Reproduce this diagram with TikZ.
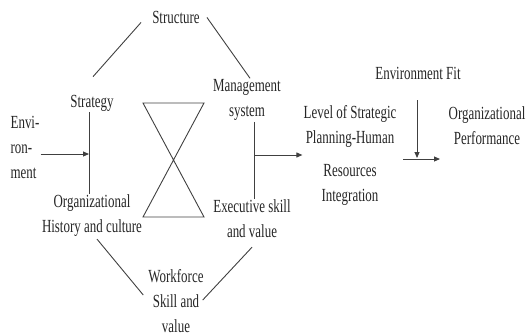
\documentclass[tikz,border=0pt]{standalone}
\usepackage{fontspec}
\setmainfont{Liberation Serif}[FakeStretch=0.7]
\usepackage{tikz}
\usetikzlibrary{arrows.meta,positioning}
\tikzset{
  lbl/.style={font=\fontsize{18.5}{25}\selectfont, text=black!85, align=center, inner sep=1pt},
  link/.style={draw=black!75, line width=0.9pt},
  flow/.style={link, -{Triangle[length=6pt,width=5pt]}}
}

\begin{document}
\begin{tikzpicture}[x=1pt,y=-1pt]
  \useasboundingbox (0,0) rectangle (526,335);

  % the seven elements
  \node[lbl] (structure) at (176,17) {Structure};
  \node[lbl] (strategy) at (92,103) {Strategy};
  \node[lbl] (mgmt) at (247,100) {Management\\system};
  \node[lbl] (org) at (92,216) {Organizational\\History and culture};
  \node[lbl] (exec) at (252,219) {Executive skill\\and value};
  \node[lbl] (work) at (176,301) {Workforce\\Skill and\\value};
  \node[lbl, align=left] (env) at (25,147) {Envi-\\ron-\\ment};

  % right hand side
  \node[lbl] (level) at (350,155) {Level of Strategic\\Planning-Human\\[8pt]Resources\\Integration};
  \node[lbl] (envfit) at (418,73) {Environment Fit};
  \node[lbl] (perf) at (487,126) {Organizational\\Performance};

  % hourglass
  \draw[link] (143,103) -- (204,103) -- (143,217) -- (204,217) -- cycle;

  % outer links
  \draw[link] ([shift={(-10,-2)}]structure.south west) -- ([shift={(1,-17)}]strategy.north);
  \draw[link] ([shift={(6,-7)}]structure.south east) -- ([shift={(3,0)}]mgmt.north);
  \draw[link] ([shift={(5,1)}]org.south) -- ([shift={(-4,-6)}]work.west);
  \draw[link] ([shift={(0,8)}]exec.south) -- ([shift={(-2,-1)}]work.east);

  % vertical bars
  \coordinate (sj) at (89,154);
  \coordinate (mj) at (254,155);
  \draw[link] (strategy.south -| sj) -- (org.north -| sj);
  \draw[link] (mgmt.south -| mj) -- (exec.north -| mj);

  % arrows
  \draw[flow] (env.east |- sj) -- (sj);
  \draw[flow] (mj) -- (level.west |- mj);
  \coordinate (hs) at (403,159);
  \draw[flow] (hs) -- ++(37,0);
  \draw[flow, shorten <=20pt] (envfit.south -| 417,0) -- (417,158);
\end{tikzpicture}
\end{document}
